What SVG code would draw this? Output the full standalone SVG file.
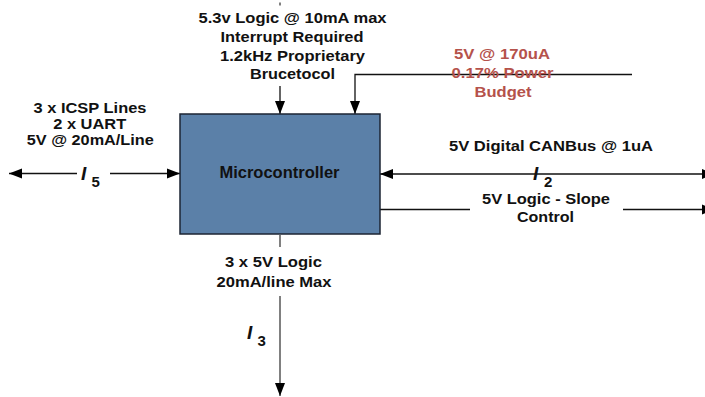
<svg xmlns="http://www.w3.org/2000/svg" width="705" height="397" viewBox="0 0 705 397">
<style>
.t{font-family:"Liberation Sans",Arial,sans-serif;font-weight:bold;font-size:15px;fill:#111;text-anchor:middle}
.red{fill:#b5524b}
.big{font-size:16.5px}
.iv{font-family:"Liberation Sans",Arial,sans-serif;font-weight:bold;font-style:italic;font-size:19px;fill:#111}
.sub{font-family:"Liberation Sans",Arial,sans-serif;font-weight:bold;font-size:15px;fill:#111}
.ln{stroke:#111;stroke-width:1.3;fill:none}
.gl{stroke:#808080;stroke-width:2;fill:none}
</style>
<defs>
<marker id="ah" markerUnits="userSpaceOnUse" markerWidth="14" markerHeight="11" refX="13" refY="5" orient="auto-start-reverse" viewBox="0 0 14 10">
<path d="M0,0 L13,5 L0,10 Z" fill="#000"/>
</marker>
</defs>
<g id="connectors">
<line class="gl" x1="280" y1="2.5" x2="280" y2="5.5" stroke-width="1.5"/>
<line class="ln" x1="280" y1="86" x2="280" y2="114" marker-end="url(#ah)"/>
<polyline class="ln" points="632,74.5 355,74.5 355,114" marker-end="url(#ah)"/>
<line class="ln" x1="9" y1="173.5" x2="77" y2="173.5" marker-start="url(#ah)"/>
<line class="ln" x1="110" y1="173.5" x2="180" y2="173.5" marker-end="url(#ah)"/>
<line class="ln" x1="380" y1="174" x2="715" y2="174" marker-start="url(#ah)" marker-end="url(#ah)"/>
<line class="ln" x1="380" y1="209.5" x2="470" y2="209.5"/>
<line class="ln" x1="623" y1="209.5" x2="715" y2="209.5" marker-end="url(#ah)"/>
<line class="gl" x1="280" y1="235" x2="280" y2="247"/>
<line class="gl" x1="280" y1="296" x2="280" y2="396" marker-end="url(#ah)"/>
</g>
<g id="microcontroller">
<rect x="180" y="114" width="200" height="120" fill="#5b80a8" stroke="#1c2533" stroke-width="1.5"/>
<text class="t big" x="279.5" y="177.5">Microcontroller</text>
</g>
<g id="label-top">
<text class="t" x="292.5" y="23" textLength="188" lengthAdjust="spacingAndGlyphs">5.3v Logic @ 10mA max</text>
<text class="t" x="292" y="42" textLength="143" lengthAdjust="spacingAndGlyphs">Interrupt Required</text>
<text class="t" x="292.5" y="60.5" textLength="145" lengthAdjust="spacingAndGlyphs">1.2kHz Proprietary</text>
<text class="t" x="292.5" y="79" textLength="85" lengthAdjust="spacingAndGlyphs">Brucetocol</text>
</g>
<g id="label-power">
<text class="t red" x="502" y="59" textLength="96" lengthAdjust="spacingAndGlyphs">5V @ 170uA</text>
<text class="t red" x="502.5" y="78" textLength="102" lengthAdjust="spacingAndGlyphs">0.17% Power</text>
<text class="t red" x="503" y="96.5" textLength="57" lengthAdjust="spacingAndGlyphs">Budget</text>
</g>
<g id="label-left">
<text class="t" x="90" y="113" textLength="113" lengthAdjust="spacingAndGlyphs">3 x ICSP Lines</text>
<text class="t" x="89.7" y="129" textLength="73" lengthAdjust="spacingAndGlyphs">2 x UART</text>
<text class="t" x="90.3" y="145" textLength="127" lengthAdjust="spacingAndGlyphs">5V @ 20mA/Line</text>
<text class="iv" x="81" y="180">I</text>
<text class="sub" x="91.5" y="187">5</text>
</g>
<g id="label-right">
<text class="t" x="551" y="151" textLength="204" lengthAdjust="spacingAndGlyphs">5V Digital CANBus @ 1uA</text>
<text class="iv" x="533" y="180">I</text>
<text class="sub" x="544" y="187">2</text>
<text class="t" x="546" y="204" textLength="128" lengthAdjust="spacingAndGlyphs">5V Logic - Slope</text>
<text class="t" x="545.5" y="221.5" textLength="57" lengthAdjust="spacingAndGlyphs">Control</text>
</g>
<g id="label-bottom">
<text class="t" x="273.5" y="267" textLength="97" lengthAdjust="spacingAndGlyphs">3 x 5V Logic</text>
<text class="t" x="274" y="286.5" textLength="115" lengthAdjust="spacingAndGlyphs">20mA/line Max</text>
<text class="iv" x="247" y="339">I</text>
<text class="sub" x="257.5" y="345.5">3</text>
</g>
</svg>
